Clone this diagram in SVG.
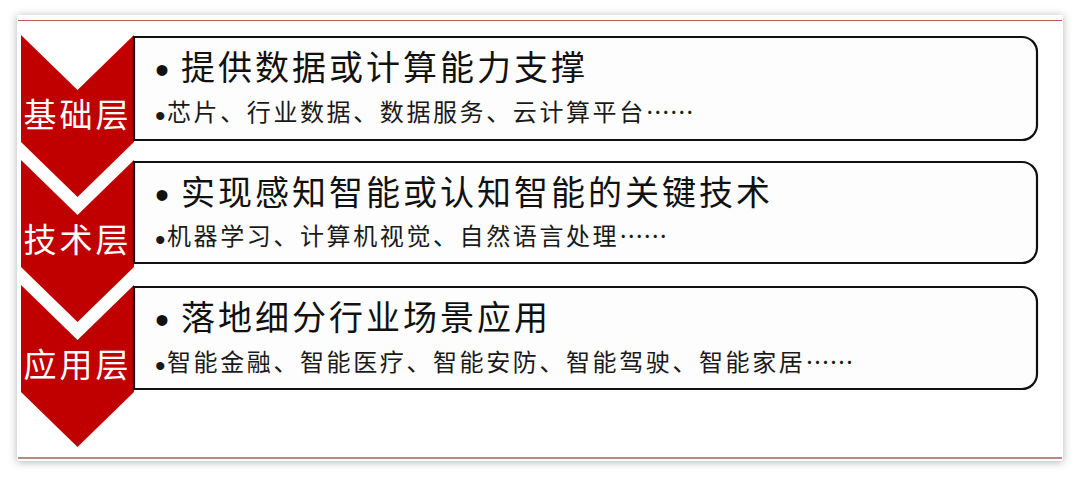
<svg xmlns="http://www.w3.org/2000/svg" width="1080" height="481" viewBox="0 0 1080 481">
  <style>
    .chev { fill: #C00000; }
    .box { fill: #fdfdfd; stroke: #111111; stroke-width: 2.2; }
    .lbl { font-family: "Noto Sans CJK SC", "Noto Sans", sans-serif; font-size: 33px; fill: #ffffff; letter-spacing: 3px; }
    .ttl { font-family: "Noto Sans CJK SC", "Noto Sans", sans-serif; font-size: 34px; fill: #111111; letter-spacing: 3px; }
    .sub { font-family: "Noto Sans CJK SC", "Noto Sans", sans-serif; font-size: 24px; fill: #1a1a1a; letter-spacing: 2.6px; }
    .el { letter-spacing: 0; }
    .bt { font-family: "Liberation Sans", Arial, sans-serif; font-size: 40px; letter-spacing: 0; }
    .bs { font-family: "Liberation Sans", Arial, sans-serif; font-size: 30px; letter-spacing: 0; }
  </style>
  <defs>
    <filter id="shadow" x="-5%" y="-5%" width="110%" height="115%">
      <feDropShadow dx="0" dy="1" stdDeviation="4" flood-color="#000000" flood-opacity="0.3"/>
    </filter>
  </defs>
  <rect x="0" y="0" width="1080" height="481" fill="#ffffff"/>
  <g id="panel">
    <rect x="17" y="15" width="1046" height="446" fill="#ffffff" filter="url(#shadow)"/>
    <line x1="18" y1="20.5" x2="1062" y2="20.5" stroke="#c25a5a" stroke-width="1.2"/>
    <line x1="18" y1="458" x2="1062" y2="458" stroke="#b98585" stroke-width="2"/>
  </g>

  <g id="layer1">
    <path class="chev" d="M21,35 L77.5,90 L134,35 L134,142 L77.5,197 L21,142 Z"/>
    <path class="box" d="M134,37 H1022 A15,15 0 0 1 1037,52 V125 A15,15 0 0 1 1022,140 H134 Z"/>
    <text class="lbl" x="77.5" y="127" text-anchor="middle">基础层</text>
    <text class="ttl"><tspan class="bt" x="155" y="84">•</tspan><tspan x="181" y="80">提供数据或计算能力支撑</tspan></text>
    <text class="sub"><tspan class="bs" x="155" y="126">•</tspan><tspan x="167" y="121">芯片、行业数据、数据服务、云计算平台</tspan><tspan class="el">……</tspan></text>
  </g>

  <g id="layer2">
    <path class="chev" d="M21,160 L77.5,215 L134,160 L134,267 L77.5,322 L21,267 Z"/>
    <path class="box" d="M134,162 H1022 A15,15 0 0 1 1037,177 V248 A15,15 0 0 1 1022,263 H134 Z"/>
    <text class="lbl" x="77.5" y="252" text-anchor="middle">技术层</text>
    <text class="ttl"><tspan class="bt" x="155" y="209">•</tspan><tspan x="181" y="205">实现感知智能或认知智能的关键技术</tspan></text>
    <text class="sub"><tspan class="bs" x="155" y="250">•</tspan><tspan x="167" y="245">机器学习、计算机视觉、自然语言处理</tspan><tspan class="el">……</tspan></text>
  </g>

  <g id="layer3">
    <path class="chev" d="M21,285 L77.5,340 L134,285 L134,392 L77.5,447 L21,392 Z"/>
    <path class="box" d="M134,287 H1022 A15,15 0 0 1 1037,302 V374 A15,15 0 0 1 1022,389 H134 Z"/>
    <text class="lbl" x="77.5" y="377" text-anchor="middle">应用层</text>
    <text class="ttl"><tspan class="bt" x="155" y="334">•</tspan><tspan x="181" y="330">落地细分行业场景应用</tspan></text>
    <text class="sub"><tspan class="bs" x="155" y="376">•</tspan><tspan x="167" y="371">智能金融、智能医疗、智能安防、智能驾驶、智能家居</tspan><tspan class="el">……</tspan></text>
  </g>

  <g id="connectors"></g>
</svg>
